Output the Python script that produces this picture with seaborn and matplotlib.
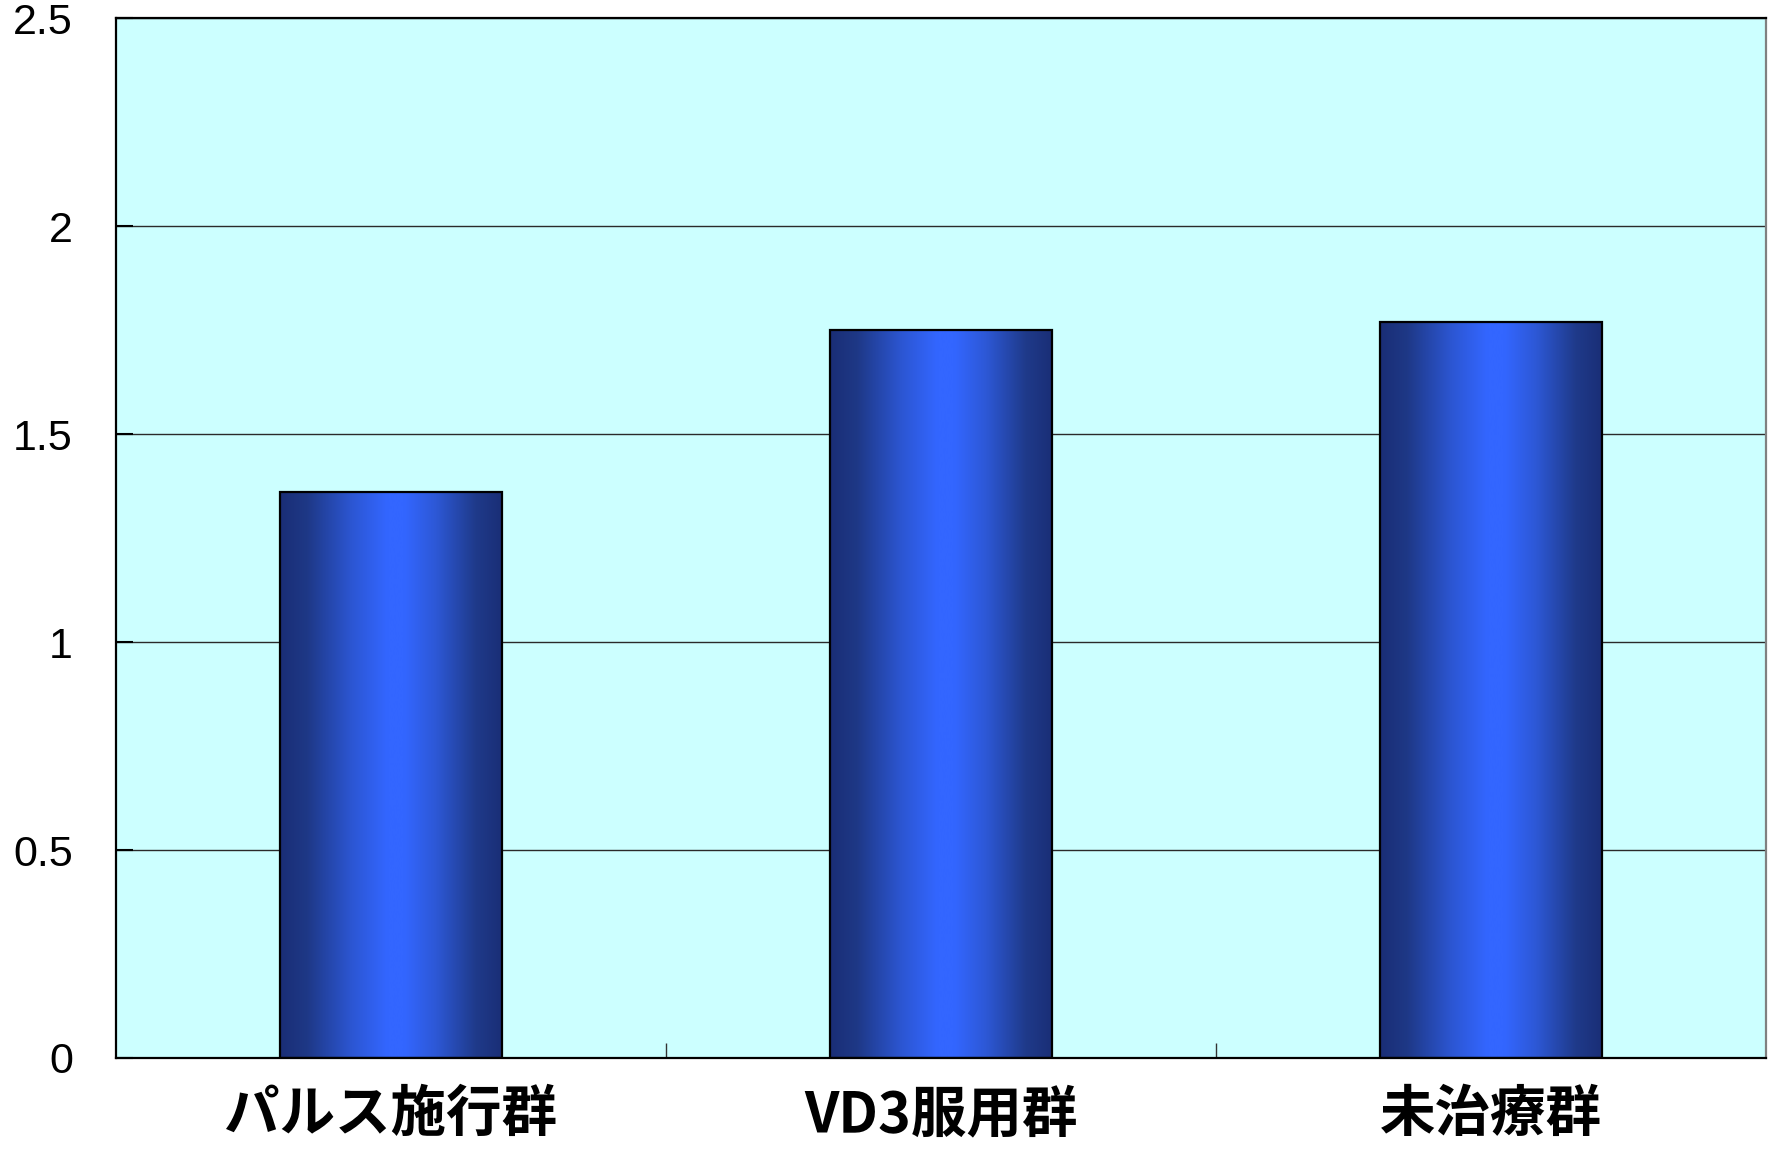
import numpy as np
import pandas as pd
import matplotlib
matplotlib.use("Agg")
import matplotlib.pyplot as plt
import seaborn as sns
from matplotlib.colors import LinearSegmentedColormap
from matplotlib.ticker import FixedLocator

# Data
groups = ["パルス施行群", "VD3服用群", "未治療群"]
values = [1.36, 1.75, 1.77]
y_ticks = [0, 0.5, 1, 1.5, 2, 2.5]
y_tick_labels = ["0", "0.5", "1", "1.5", "2", "2.5"]

sns.set_theme(style="white")
plt.rcParams["font.family"] = ["Liberation Sans", "Noto Sans CJK JP", "DejaVu Sans"]

fig = plt.figure(figsize=(17.78, 11.49), dpi=100)
fig.patch.set_facecolor("white")
ax = fig.add_axes([0.0652, 0.0792, 0.9281, 0.9051])
ax.set_facecolor("#ccffff")

df = pd.DataFrame({"group": groups, "value": values})
sns.barplot(data=df, x="group", y="value", ax=ax, width=0.405,
            color="#3366ff", edgecolor="black", linewidth=1.6,
            saturation=1, zorder=3)

# Horizontal cylinder-like shading inside each bar
shade = LinearSegmentedColormap.from_list(
    "bar_shade",
    [(0.0, "#1a2e76"), (0.12, "#1e3886"), (0.32, "#2c56d2"),
     (0.48, "#3366ff"), (0.56, "#3366ff"), (0.70, "#2d58d6"),
     (0.88, "#1f3a8a"), (1.0, "#1a2e76")])
grad = np.linspace(0, 1, 256).reshape(1, -1)
for p in ax.patches:
    x, y = p.get_x(), p.get_y()
    w, h = p.get_width(), p.get_height()
    p.set_facecolor("none")
    im = ax.imshow(grad, cmap=shade, extent=[x, x + w, y, y + h],
                   aspect="auto", zorder=2.5, interpolation="bicubic")
    im.set_clip_path(p)

ax.set_xlim(-0.5, len(groups) - 0.5)
ax.set_ylim(0, 2.5)

# Grid and axes
ax.set_axisbelow(True)
ax.yaxis.grid(True, color="#2a2a2a", linewidth=1.0)
ax.xaxis.grid(False)

ax.set_yticks(y_ticks, y_tick_labels)
ax.tick_params(axis="y", direction="in", length=12, width=1.5,
               color="black", labelsize=31, pad=31, labelcolor="black",
               left=True)
ax.set_xticks(range(len(groups)), groups, fontsize=40, fontweight="bold",
              family=["Noto Sans CJK JP", "DejaVu Sans"])
ax.tick_params(axis="x", which="major", length=0, pad=21, labelcolor="black")
ax.xaxis.set_minor_locator(FixedLocator([0.5, 1.5]))
ax.tick_params(axis="x", which="minor", direction="in", length=11,
               width=1.0, color="#333333", bottom=True)

for side in ["left", "bottom", "top"]:
    ax.spines[side].set_color("black")
    ax.spines[side].set_linewidth(1.6)
ax.spines["right"].set_color("#808080")
ax.spines["right"].set_linewidth(1.6)

ax.set_xlabel("")
ax.set_ylabel("")

fig.savefig("out.png", dpi=100, facecolor="white")
